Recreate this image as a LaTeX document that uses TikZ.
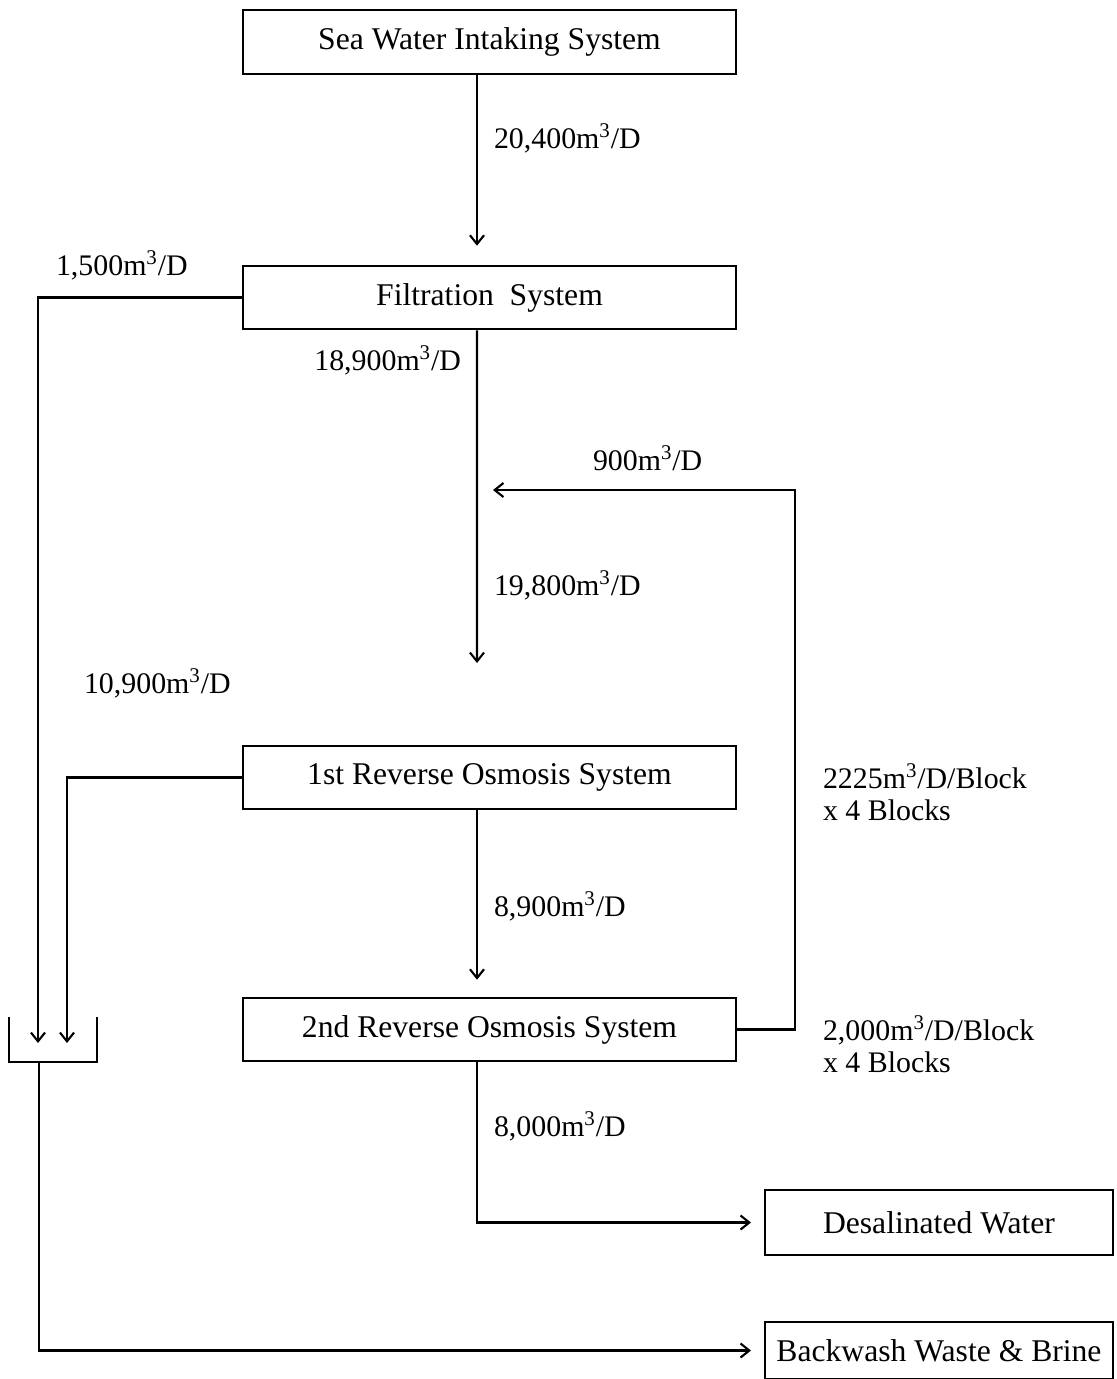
\documentclass[tikz,border=0pt]{standalone}
\usepackage{fontspec}
\setmainfont{Liberation Serif}
\usetikzlibrary{arrows.meta}

\begin{document}
\begin{tikzpicture}[x=0.02cm,y=-0.02cm,line width=1.2pt,
    >={Straight Barb[length=5pt,width=8pt]},
    sysbox/.style={draw, minimum width=9.86cm, minimum height=1.27cm,
        font=\fontsize{18}{20}\selectfont},
    outbox/.style={draw, minimum width=6.96cm, minimum height=1.3cm,
        font=\fontsize{18}{20}\selectfont},
    flow/.style={inner sep=0pt, anchor=west, align=left,
        font=\fontsize{17}{18}\selectfont}]
\useasboundingbox (0,0) rectangle (1116,1379);

% Systems
\node[sysbox] (intake) at (489.5,42) {Sea Water Intaking System};
\node[sysbox] (filter) at (489.5,297.5) {Filtration\ \ System};
\node[sysbox] (ro1) at (489.5,777.5) {1st Reverse Osmosis System};
\node[sysbox] (ro2) at (489.5,1029.5) {2nd Reverse Osmosis System};

% Outlets
\node[outbox] (product) at (939,1222.5) {Desalinated Water};
\node[outbox, minimum height=1.14cm] (brine) at (939,1350.5) {Backwash Waste \& Brine};

% Free ends
\coordinate (feed) at (477,663);
\coordinate (recyc) at (493,490);
\coordinate (inA) at (38,1043);
\coordinate (inB) at (67,1043);
\coordinate (basin) at (39,1062);

% Waste basin
\draw (9,1017) |- (97,1062) -- (97,1017);

% Main line
\draw[->, shorten >=0.38cm] ([xshift=-0.25cm]intake.south) -- ([xshift=-0.25cm]filter.north);
\draw[->] ([xshift=-0.25cm]filter.south) -- (feed);
\draw[->, shorten >=0.34cm] ([xshift=-0.25cm]ro1.south) -- ([xshift=-0.25cm]ro2.north);
\draw[->, shorten >=0.26cm] ([xshift=-0.25cm]ro2.south) |- (product.west);

% Recycle
\draw[->] (ro2.east) -- ++(58,0) |- (recyc);

% Waste lines
\draw[->] (filter.west) -| (inA);
\draw[->] (ro1.west) -| (inB);
\draw[->, shorten >=0.26cm] (basin) |- (brine.west);

% Flow rates
\node[flow] (q1) at (493,138) {20,400m\textsuperscript{3}/D};
\node[flow] (q2) at (55,265) {1,500m\textsuperscript{3}/D};
\node[flow, anchor=east] (q3) at (462,360) {18,900m\textsuperscript{3}/D};
\node[flow] (q4) at (592,458) {900m\textsuperscript{3}/D};
\node[flow] (q5) at (493,585) {19,800m\textsuperscript{3}/D};
\node[flow] (q6) at (83,683) {10,900m\textsuperscript{3}/D};
\node[flow] (q7) at (493,906) {8,900m\textsuperscript{3}/D};
\node[flow] (q8) at (493,1126) {8,000m\textsuperscript{3}/D};
\node[flow] (q9) at (822,792) {2225m\textsuperscript{3}/D/Block\\x 4 Blocks};
\node[flow] (q10) at (822,1044) {2,000m\textsuperscript{3}/D/Block\\x 4 Blocks};
\end{tikzpicture}
\end{document}
